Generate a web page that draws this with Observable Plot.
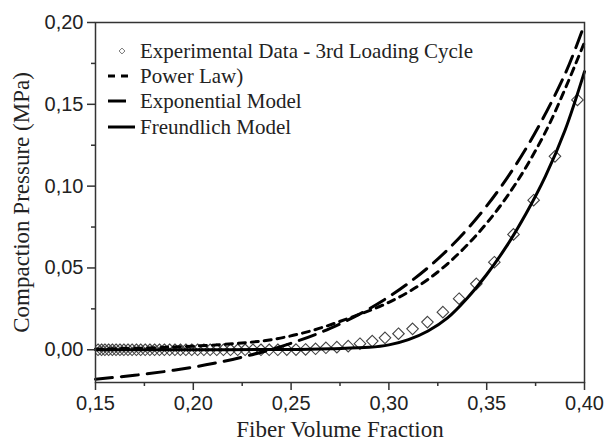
<!DOCTYPE html>
<html><head><meta charset="utf-8">
<script src="https://cdn.jsdelivr.net/npm/d3@7"></script>
<script src="https://cdn.jsdelivr.net/npm/@observablehq/plot@0.6"></script>
<style>body{margin:0;background:#fff}</style>
</head><body><div id="chart"></div>
<script>
// Experimental data (3rd loading cycle)
const expVf = [0.3964,0.3849,0.3740,0.3637,0.3539,0.3447,0.3359,0.3276,0.3197,0.3121,0.3049,0.2980,0.2915,0.2852,0.2792,0.2734,0.2678,0.2625,0.2574,0.2525,0.2478,0.2432,0.2388,0.2346,0.2305,0.2265,0.2227,0.2190,0.2154,0.2120,0.2086,0.2054,0.2022,0.1992,0.1962,0.1934,0.1906,0.1879,0.1852,0.1827,0.1802,0.1778,0.1754,0.1731,0.1709,0.1687,0.1666,0.1645,0.1625,0.1605,0.1586,0.1567,0.1548,0.1531,0.1513];
const expP  = [0.1527,0.1182,0.0914,0.0705,0.0535,0.0403,0.0312,0.0230,0.0169,0.0128,0.0098,0.0073,0.0053,0.0037,0.0022,0.0016,0.0012,0.0006,0.0002,0.0001,0.0001,0,0,0,0,0,0,0,0,0,0,0,0,0,0,0,0,0,0,0,0,0,0,0,0,0,0,0,0,0,0,0,0,0,0];
// Power law
const powVf = [0.15,0.18,0.20,0.22,0.24,0.26,0.28,0.30,0.32,0.34,0.36,0.38,0.40];
const powP  = [0.0004,0.0012,0.0022,0.0037,0.0062,0.0115,0.0195,0.0290,0.0430,0.0640,0.0930,0.1330,0.1880];
// Exponential model
const expoVf = [0.15,0.17,0.19,0.21,0.23,0.25,0.27,0.29,0.31,0.33,0.35,0.37,0.39,0.40];
const expoP  = [-0.0180,-0.0156,-0.0125,-0.0084,-0.0030,0.0040,0.0131,0.0251,0.0407,0.0611,0.0879,0.1228,0.1684,0.1990];
// Freundlich model
const freVf = [0.15,0.20,0.25,0.27,0.29,0.30,0.31,0.32,0.33,0.34,0.35,0.36,0.37,0.38,0.39,0.40];
const freP  = [0,0,0.0002,0.0007,0.0015,0.0030,0.0062,0.0115,0.0195,0.0315,0.0460,0.0630,0.0830,0.1060,0.1340,0.1700];

const xTicks = [0.15,0.20,0.25,0.30,0.35,0.40];
const xMinor = [0.175,0.225,0.275,0.325,0.375];
const yTicks = [0,0.05,0.10,0.15,0.20];
const yMinor = [0.025,0.075,0.125,0.175];
const xLabel = "Fiber Volume Fraction";
const yLabel = "Compaction Pressure (MPa)";
const legendLabels = ["Experimental Data - 3rd Loading Cycle","Power Law)","Exponential Model","Freundlich Model"];

const zip = (a, b) => a.map((v, i) => ({x: v, y: b[i]}));
const fmt = d => d.toFixed(2).replace(".", ",");
const ink = "#222";
const serif = "'Liberation Serif', 'Times New Roman', serif";

const chart = Plot.plot({
  width: 607, height: 441,
  marginLeft: 95, marginRight: 23, marginTop: 22, marginBottom: 59,
  style: {fontFamily: "'Liberation Sans', Arial, sans-serif", fontSize: "20px", background: "#fff", color: ink, overflow: "visible"},
  x: {domain: [0.15, 0.40]},
  y: {domain: [-0.02, 0.20]},
  marks: [
    Plot.dot(zip(expVf, expP), {x: "x", y: "y", symbol: "diamond2", r: 5.2, stroke: "#444", strokeWidth: 1.1, fill: "none", clip: true}),
    Plot.line(zip(powVf, powP), {x: "x", y: "y", curve: "catmull-rom", stroke: "#000", strokeWidth: 3, strokeDasharray: "7,6"}),
    Plot.line(zip(expoVf, expoP), {x: "x", y: "y", curve: "catmull-rom", stroke: "#000", strokeWidth: 3, strokeDasharray: "17,9"}),
    Plot.line(zip(freVf, freP), {x: "x", y: "y", curve: "catmull-rom", stroke: "#000", strokeWidth: 3}),
    Plot.frame({stroke: "#333", strokeWidth: 1.5}),
    Plot.axisY(yTicks, {tickSize: 8, tickPadding: 4, tickFormat: fmt, stroke: "#333", strokeWidth: 1.5, label: null}),
    Plot.axisY(yMinor, {tickSize: 4, tickFormat: () => "", stroke: "#333", strokeWidth: 1.5, label: null}),
    Plot.axisX(xTicks, {tickSize: 8, tickPadding: 5, tickFormat: fmt, stroke: "#333", strokeWidth: 1.5, label: null}),
    Plot.axisX(xMinor, {tickSize: 4, tickFormat: () => "", stroke: "#333", strokeWidth: 1.5, label: null}),
    Plot.text([xLabel], {frameAnchor: "bottom", dy: 47, textAnchor: "middle", fontFamily: serif, fontSize: 23, fill: ink, lineAnchor: "middle"}),
    Plot.text([yLabel], {frameAnchor: "left", dx: -74, textAnchor: "middle", rotate: -90, fontFamily: serif, fontSize: 23, fill: ink, lineAnchor: "middle"})
  ]
});
document.getElementById("chart").append(chart);

// Legend (inside the frame, top-left)
const svg = d3.select(chart);
const L = 95, T = 22;
const g = svg.append("g").attr("font-family", serif).attr("font-size", 21).attr("fill", ink).attr("text-anchor", "start");
const rowY = [29, 54, 79, 105].map(v => T + v);
g.append("path").attr("d", d3.symbol(d3.symbolDiamond2, 22)()).attr("transform", `translate(${L + 27},${rowY[0]})`).attr("fill", "none").attr("stroke", "#777").attr("stroke-width", 1);
g.append("line").attr("x1", L + 13).attr("x2", L + 38).attr("y1", rowY[1]).attr("y2", rowY[1]).attr("stroke", "#000").attr("stroke-width", 3).attr("stroke-dasharray", "7,6");
g.append("line").attr("x1", L + 13).attr("x2", L + 31).attr("y1", rowY[2]).attr("y2", rowY[2]).attr("stroke", "#000").attr("stroke-width", 3);
g.append("line").attr("x1", L + 13).attr("x2", L + 40).attr("y1", rowY[3]).attr("y2", rowY[3]).attr("stroke", "#000").attr("stroke-width", 3);
legendLabels.forEach((t, i) => {
  g.append("text").attr("x", L + 45).attr("y", rowY[i]).attr("dy", "0.33em").attr("text-anchor", "start").text(t);
});
</script>
</body></html>
